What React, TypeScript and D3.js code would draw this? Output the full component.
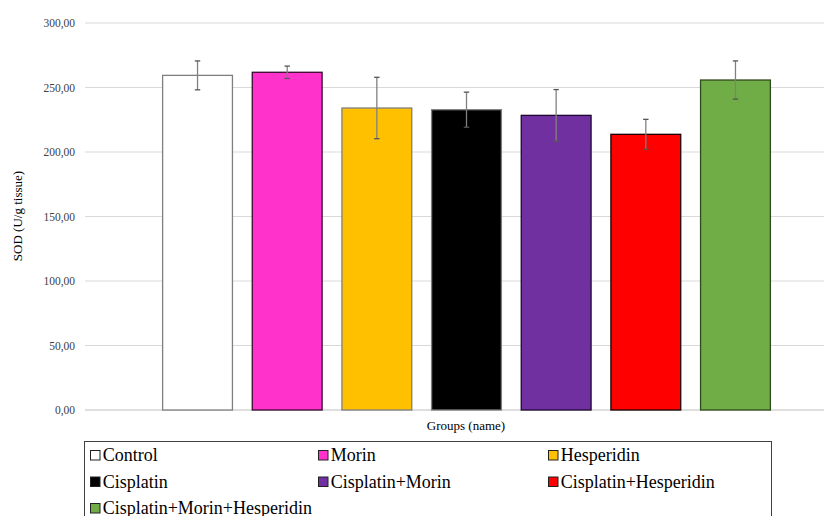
import React from "react";
import * as d3 from "d3";

const categories = ["Control", "Morin", "Hesperidin", "Cisplatin", "Cisplatin+Morin", "Cisplatin+Hesperidin", "Cisplatin+Morin+Hesperidin"];
const values = [259.4, 261.8, 234.1, 232.8, 228.4, 213.7, 255.8];
const errors = [11.2, 4.8, 23.8, 13.6, 20.0, 11.6, 14.8];
const fills = ["#FFFFFF", "#FF33CC", "#FFC000", "#000000", "#7030A0", "#FF0000", "#70AD47"];
const strokes = ["#7F7F7F", "#3a0a2e", "#7F7F7F", "#7F7F7F", "#1e0830", "#1a0000", "#2f4a1e"];
const yTicks = [0, 50, 100, 150, 200, 250, 300];
const yTitle = "SOD (U/g tissue)";
const xTitle = "Groups (name)";

const W = 824, H = 516;
const font = '"Times New Roman", "Liberation Serif", Tinos, serif';

export default function App() {
  const y = d3.scaleLinear().domain([0, 300]).range([410, 23]);
  const x = d3.scaleBand<string>().domain(categories).range([152.7, 780.3]).paddingInner(0.21).paddingOuter(0.105);
  const fmt = (v: number) => v.toFixed(2).replace(".", ",");
  const legendCols = [90, 318, 548];
  const legendRows = [455, 481.5, 508];
  return (
    <svg width={W} height={H} style={{ position: "absolute", left: 0, top: 0, background: "#fff", fontFamily: font }}>
      {yTicks.map((t) => (
        <g key={t}>
          <line x1={85} x2={824} y1={y(t)} y2={y(t)} stroke={t === 0 ? "#BFBFBF" : "#D9D9D9"} strokeWidth={1} />
          <text x={75} y={y(t)} dy="0.35em" textAnchor="end" fontSize={11.5} fill="#404040" style={{ fontFamily: font }}>{fmt(t)}</text>
        </g>
      ))}
      <text transform={`translate(17,216) rotate(-90)`} textAnchor="middle" dy="0.35em" fontSize={13} fill="#000" style={{ fontFamily: font }}>{yTitle}</text>
      <text x={466} y={425} textAnchor="middle" dy="0.35em" fontSize={13} fill="#000" style={{ fontFamily: font }}>{xTitle}</text>
      {categories.map((c, i) => {
        const bx = x(c)!;
        const bw = x.bandwidth();
        const cx = bx + bw / 2;
        return (
          <g key={c}>
            <rect x={bx + 0.5} y={y(values[i])} width={bw - 1} height={y(0) - y(values[i])} fill={fills[i]} stroke={strokes[i]} strokeWidth={1.3} />
            <line x1={cx} x2={cx} y1={y(values[i] + errors[i])} y2={y(values[i] - errors[i])} stroke="#808080" strokeWidth={1.3} />
            <line x1={cx - 2.7} x2={cx + 2.7} y1={y(values[i] + errors[i])} y2={y(values[i] + errors[i])} stroke="#555" strokeWidth={1.3} />
            <line x1={cx - 2.7} x2={cx + 2.7} y1={y(values[i] - errors[i])} y2={y(values[i] - errors[i])} stroke="#555" strokeWidth={1.3} />
          </g>
        );
      })}
      <rect x={84.5} y={441.5} width={687} height={90} fill="none" stroke="#404040" strokeWidth={1} />
      {categories.map((c, i) => {
        const lx = legendCols[i % 3];
        const ly = legendRows[Math.floor(i / 3)];
        return (
          <g key={"lg" + c}>
            <rect x={lx + 0.5} y={ly - 4.5} width={9.5} height={9.5} fill={fills[i]} stroke="#222" strokeWidth={1} />
            <text x={lx + 12.7} y={ly} dy="0.35em" fontSize={18} fill="#000" style={{ fontFamily: font }}>{c}</text>
          </g>
        );
      })}
    </svg>
  );
}
